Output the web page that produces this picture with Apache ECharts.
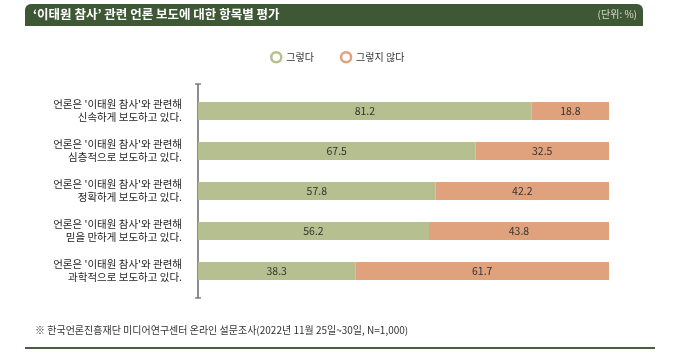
<!DOCTYPE html>
<html>
<head>
<meta charset="utf-8">
<script src="https://cdn.jsdelivr.net/npm/echarts@6/dist/echarts.min.js"></script>
<style>
  html, body { margin: 0; padding: 0; background: #fff; }
  #chart { width: 680px; height: 354px; }
</style>
</head>
<body>
<div id="chart"></div>
<script>
const categories = [
  "언론은 '이태원 참사'와 관련해\n신속하게 보도하고 있다.",
  "언론은 '이태원 참사'와 관련해\n심층적으로 보도하고 있다.",
  "언론은 '이태원 참사'와 관련해\n정확하게 보도하고 있다.",
  "언론은 '이태원 참사'와 관련해\n믿을 만하게 보도하고 있다.",
  "언론은 '이태원 참사'와 관련해\n과학적으로 보도하고 있다."
];
const yesValues = [81.2, 67.5, 57.8, 56.2, 38.3];
const noValues = [18.8, 32.5, 42.2, 43.8, 61.7];
const seriesNames = ["그렇다", "그렇지 않다"];
const colors = ["#b5bf8f", "#e0a27d"];

const font = "'Noto Sans CJK KR', 'Noto Sans', sans-serif";
const chart = echarts.init(document.getElementById("chart"));

const series = [yesValues, noValues].map((vals, i) => ({
  name: seriesNames[i],
  type: "bar",
  stack: "one",
  barWidth: 18,
  data: vals,
  itemStyle: { color: colors[i] },
  label: {
    show: true,
    position: "inside",
    color: "#333",
    fontSize: 10.5,
    fontFamily: font,
    formatter: p => p.value.toFixed(1)
  }
}));

chart.setOption({
  animation: false,
  textStyle: { fontFamily: font },
  legend: {
    top: 46,
    left: 265,
    padding: [5, 0, 5, 5],
    itemGap: 26,
    itemWidth: 10,
    itemHeight: 10,
    itemTextGap: 3,
    icon: "circle",
    textStyle: { fontSize: 10, color: "#333", fontFamily: font },
    data: seriesNames.map((n, i) => ({
      name: n,
      itemStyle: { color: "#fff", borderColor: colors[i], borderWidth: 2.5 }
    }))
  },
  grid: { left: 198, top: 91, width: 411, height: 200 },
  xAxis: {
    type: "value",
    min: 0,
    max: 100,
    show: false
  },
  yAxis: {
    type: "category",
    inverse: true,
    data: categories,
    axisLine: { show: false },
    axisTick: { show: false },
    axisLabel: {
      margin: 16,
      fontSize: 10.5,
      lineHeight: 13,
      color: "#1e1e1e",
      align: "right",
      fontFamily: font
    }
  },
  graphic: [
    {
      type: "rect",
      shape: { x: 25, y: 4, width: 618, height: 22, r: [6, 6, 0, 0] },
      style: { fill: "#3e5735" }
    },
    {
      type: "text",
      left: 33,
      top: 8,
      style: {
        text: "‘이태원 참사’ 관련 언론 보도에 대한 항목별 평가",
        fill: "#fff",
        font: "bold 12.5px " + font
      }
    },
    {
      type: "text",
      right: 43,
      top: 9,
      style: { text: "(단위: %)", fill: "#dcdcd0", font: "10px " + font }
    },
    {
      type: "polyline",
      shape: { points: [[198, 84], [198, 298]] },
      style: { stroke: "#666", lineWidth: 1.5 }
    },
    {
      type: "line",
      shape: { x1: 195, y1: 84, x2: 201, y2: 84 },
      style: { stroke: "#666", lineWidth: 1.2 }
    },
    {
      type: "line",
      shape: { x1: 195, y1: 298, x2: 201, y2: 298 },
      style: { stroke: "#666", lineWidth: 1.2 }
    },
    {
      type: "text",
      left: 35,
      top: 325,
      style: {
        text: "※ 한국언론진흥재단 미디어연구센터 온라인 설문조사(2022년 11월 25일~30일, N=1,000)",
        fill: "#333",
        font: "10px " + font
      }
    },
    {
      type: "rect",
      shape: { x: 25, y: 347, width: 630, height: 2 },
      style: { fill: "#4b5c43" }
    }
  ],
  series: series
});
</script>
</body>
</html>
